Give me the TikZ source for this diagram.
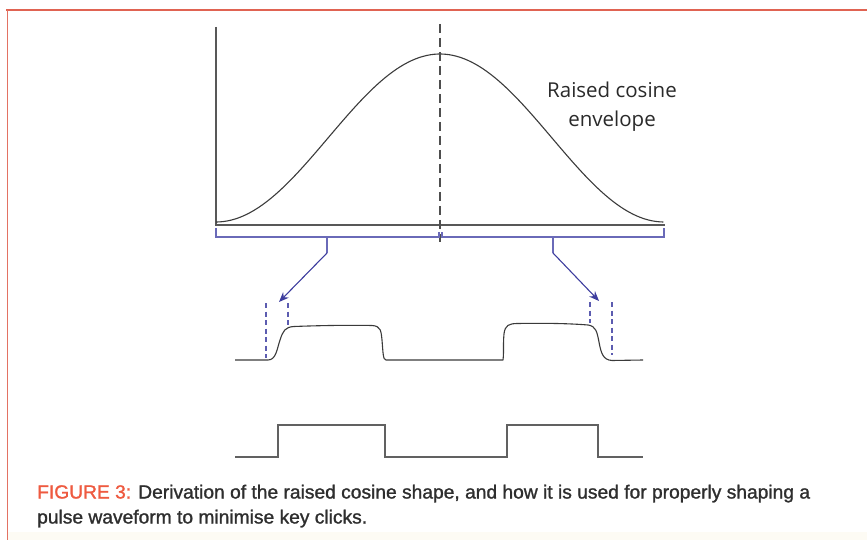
\documentclass[tikz,border=0pt]{standalone}
\usepackage{fontspec}
\setmainfont{Liberation Sans}
\newfontfamily\labfont{Open Sans}
\newfontfamily\capfont[FakeBold=1.3]{Liberation Sans}
\usetikzlibrary{arrows.meta}
\definecolor{framered}{HTML}{E06352}
\definecolor{capred}{HTML}{EE5A40}
\definecolor{captext}{HTML}{2E2E2E}
\definecolor{curvegray}{HTML}{3A3A3A}
\definecolor{labgray}{HTML}{2A2A2A}
\definecolor{brblue}{HTML}{6A6AB8}
\definecolor{arrblue}{HTML}{3D3D9E}
\definecolor{dashblue}{HTML}{5C5CB0}
\definecolor{cream}{HTML}{FDFBF4}
\newlength\capwd
\newsavebox\capboxA
\AtBeginDocument{%
  \sbox\capboxA{\capfont\fontsize{19}{23}\selectfont FIGURE 3: Derivation of the raised cosine shape, and how it is used for properly shaping a}%
  \setlength\capwd{\wd\capboxA}%
}
\begin{document}
\begin{tikzpicture}[x=1pt,y=-1pt,
  curve/.style={draw=curvegray,line width=1.1pt,line join=round},
  axis/.style={draw=curvegray!85,line width=1.1pt},
  bracketline/.style={draw=brblue,line width=1.1pt},
  arrline/.style={draw=arrblue,line width=1.1pt,-{Stealth[length=10pt,width=8pt]}},
  bluedash/.style={draw=dashblue,line width=1.2pt,dash pattern=on 5pt off 3.5pt},
  centerdash/.style={draw=curvegray!90,line width=1.1pt,dash pattern=on 9pt off 5pt},
  square/.style={draw=black!62,line width=1.5pt},
  lab/.style={font=\labfont\fontsize{20.5}{24}\selectfont,text=labgray,inner sep=0pt},
  captext/.style={inner sep=0pt,text=captext}]
\useasboundingbox (0,0) rectangle (867,540);
% cream band at the bottom
\fill[cream] (8,532) rectangle (867,540);
% frame
\draw[framered,line width=2.6pt] (6,10) -- (867,10);
\draw[framered!90,line width=1.6pt] (7.5,10) -- (7.5,540);

% axes
\coordinate (yaxtop) at (216,27);
\coordinate (origin) at (216,225);
\coordinate (xaxend) at (665,225);
\draw[axis] (yaxtop) -- (origin) -- (xaxend);
% raised cosine
\draw[curve] plot[domain=0:1,samples=120,smooth] ({216+448*\x},{222-84*(1-cos(360*\x))});
% centre dashed line
\coordinate (ctop) at (440,24);
\coordinate (cbot) at (440,242);
\draw[centerdash] (ctop) -- (cbot);
% label
\node[lab,anchor=base] (envA) at (612,98) {Raised cosine};
\node[lab,anchor=base] (envB) at (612,127) {envelope};

% brackets
\coordinate (b1a) at (216,228);
\coordinate (b1b) at (216,237);
\coordinate (b1c) at (439,237);
\coordinate (b1d) at (439,232);
\coordinate (b2a) at (442,232);
\coordinate (b2b) at (442,237);
\coordinate (b2c) at (664,237);
\coordinate (b2d) at (664,228);
\draw[bracketline] (b1a) -- (b1b) -- (b1c) -- (b1d);
\draw[bracketline] (b2a) -- (b2b) -- (b2c) -- (b2d);
% arrows
\coordinate (lm) at (327,237);
\coordinate (lk) at (327,253);
\coordinate (lt) at (279,302);
\coordinate (rm) at (553,237);
\coordinate (rk) at (553,253);
\coordinate (rt) at (599,301);
\draw[bracketline] (lm) -- (lk);
\draw[arrline] (lk) -- (lt);
\draw[bracketline] (rm) -- (rk);
\draw[arrline] (rk) -- (rt);

% blue dashed markers
\coordinate (d1t) at (266,303);
\coordinate (d1b) at (266,358);
\coordinate (d2t) at (288,303);
\coordinate (d2b) at (288,326);
\coordinate (d3t) at (590,302);
\coordinate (d3b) at (590,323);
\coordinate (d4t) at (612,302);
\coordinate (d4b) at (612,355);
\draw[bluedash] (d1t) -- (d1b);
\draw[bluedash] (d2t) -- (d2b);
\draw[bluedash] (d3t) -- (d3b);
\draw[bluedash] (d4t) -- (d4b);

% shaped pulse waveform
\coordinate (s0) at (235,360);
\coordinate (s9) at (643,360);
\draw[curve] (s0) -- (268,360)
  .. controls (276,360) and (277,349) .. (280,340)
  .. controls (283,331) and (285,327) .. (294,326.5)
  .. controls (320,325.5) and (350,325) .. (372,325.5)
  .. controls (381,326) and (381,331) .. (382,340)
  .. controls (383,352) and (383,360) .. (386,360)
  -- (503,360)
  .. controls (504,352) and (503,344) .. (504,334)
  .. controls (505,325) and (509,323.5) .. (518,323.5)
  .. controls (545,323) and (570,323.5) .. (588,325)
  .. controls (596,326) and (597,332) .. (599,342)
  .. controls (601,353) and (603,360) .. (612,360.5)
  -- (s9);

% square pulse waveform
\coordinate (q0) at (235,457);
\coordinate (q9) at (643,457);
\draw[square,line join=miter] (q0) -- (278,457) -- (278,425) -- (385,425) -- (385,457)
  -- (507,457) -- (507,425) -- (598,425) -- (598,457) -- (q9);

% caption
\pgfmathsetmacro\capsx{773/\capwd}
\node[captext,anchor=base west] (capA) at (37,498.5) {\scalebox{\capsx}[1]{\capfont\fontsize{19}{23}\selectfont\textcolor{capred}{FIGURE 3:} Derivation of the raised cosine shape, and how it is used for properly shaping a}};
\node[captext,anchor=base west] (capB) at (37,523.5) {\scalebox{\capsx}[1]{\capfont\fontsize{19}{23}\selectfont pulse waveform to minimise key clicks.}};
\end{tikzpicture}
\end{document}
